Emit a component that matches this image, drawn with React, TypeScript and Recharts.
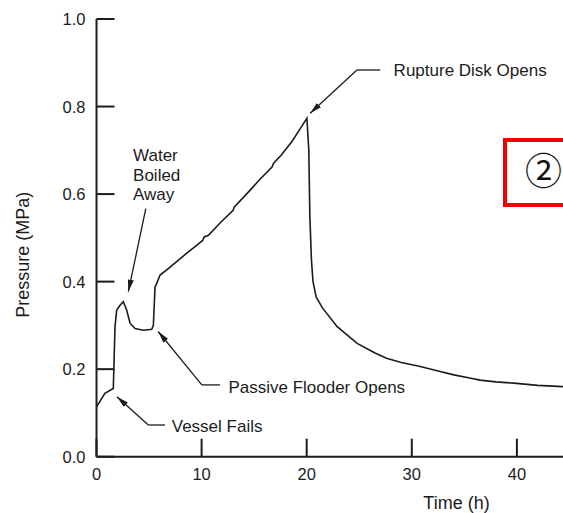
import { LineChart, Line, XAxis, YAxis, ReferenceLine, ReferenceDot, Label } from "recharts"

// pressure history
const time = [
  0, 0.8, 1.6, 1.76, 1.92, 2.2, 2.55, 2.87, 3.19, 3.67, 4.46, 5.26, 5.41, 5.57, 5.73,
  6.05, 6.68, 7.8, 8.59, 9.5, 10.1, 10.25, 10.65, 11.8, 13.0, 13.1, 14.62, 15.6, 16.7,
  16.84, 17.6, 18.6, 19.4, 20.02, 20.2, 20.3, 20.45, 20.6, 20.9, 21.5, 22.9, 24.8, 26.5,
  27.6, 29, 30.8, 32.5, 34, 35.5, 36.5, 38, 39.7, 42, 44.4, 46,
]
const pressure = [
  0.114, 0.145, 0.156, 0.297, 0.335, 0.345, 0.354, 0.335, 0.305, 0.293, 0.289, 0.291, 0.3,
  0.388, 0.396, 0.415, 0.427, 0.449, 0.465, 0.482, 0.494, 0.502, 0.506, 0.535, 0.563, 0.57,
  0.609, 0.635, 0.662, 0.67, 0.69, 0.72, 0.75, 0.773, 0.7, 0.55, 0.45, 0.4, 0.365, 0.34,
  0.297, 0.259, 0.237, 0.225, 0.215, 0.206, 0.196, 0.187, 0.18, 0.175, 0.171, 0.168, 0.163,
  0.16, 0.158,
]

const xTicks = [0, 10, 20, 30, 40]
const yTicks = [0, 0.2, 0.4, 0.6, 0.8, 1.0]

// annotation text: [time, pressure, text]
const notes: [number, number, string][] = [
  [3.48, 0.676, "Water"],
  [3.48, 0.631, "Boiled"],
  [3.48, 0.586, "Away"],
  [28.27, 0.8697, "Rupture Disk Opens"],
  [12.55, 0.1455, "Passive Flooder Opens"],
  [7.16, 0.0553, "Vessel Fails"],
]

// leader lines, each list ends at the arrow tip
const leaders: [number, number][][] = [
  [[4.69, 0.567], [3.03, 0.377]],
  [[27.0, 0.8835], [24.78, 0.8835], [20.33, 0.7846]],
  [[11.76, 0.164], [10.02, 0.164], [5.87, 0.286]],
  [[6.52, 0.0724], [4.93, 0.0724], [1.95, 0.137]],
]

const data = time.map((t, i) => ({ t, p: pressure[i] }))

const font = "Arial, 'Liberation Sans', sans-serif"
const ink = "#1c1c1c"

function BottomTick(props: any) {
  const { x, y, payload } = props
  return (
    <g>
      <line x1={x} y1={y} x2={x} y2={y - 18} stroke={ink} strokeWidth={2} />
      <text x={x} y={y + 23} textAnchor="middle" fontSize={16.5} fontFamily={font} fill={ink}>
        {payload.value}
      </text>
    </g>
  )
}

function TopTick(props: any) {
  const { x, y } = props
  return <line x1={x} y1={y} x2={x} y2={y + 18} stroke={ink} strokeWidth={2} />
}

function LeftTick(props: any) {
  const { x, y, payload } = props
  return (
    <g>
      <line x1={x} y1={y} x2={x + 18} y2={y} stroke={ink} strokeWidth={2} />
      <text x={x - 11} y={y + 6} textAnchor="end" fontSize={16.5} fontFamily={font} fill={ink}>
        {payload.value.toFixed(1)}
      </text>
    </g>
  )
}

export default function App() {
  return (
    <div style={{ position: "relative", width: 563, height: 513, overflow: "hidden", background: "#fff" }}>
      <style>{"body{margin:0}"}</style>
      <div style={{ position: "absolute", left: 8, top: 8 }}>
        <LineChart width={620} height={505} data={data} margin={{ top: 11, right: 6, bottom: 0, left: 0 }}>
          <defs>
            <marker id="tip" viewBox="0 0 12 6" refX="12" refY="3" markerWidth="12" markerHeight="6"
              orient="auto" markerUnits="userSpaceOnUse">
              <path d="M0,0 L12,3 L0,6 z" fill={ink} />
            </marker>
          </defs>
          <XAxis
            dataKey="t"
            type="number"
            domain={[0, 50]}
            ticks={xTicks}
            height={56.3}
            tickSize={0}
            tickMargin={0}
            tick={<BottomTick />}
            axisLine={{ stroke: ink, strokeWidth: 2 }}
            interval={0}
          >
            <Label
              content={(p: any) => (
                <text x={p.viewBox.x + 360} y={p.viewBox.y + 52} textAnchor="middle" fontSize={18}
                  fontFamily={font} fill={ink}>
                  Time (h)
                </text>
              )}
            />
          </XAxis>
          <XAxis
            xAxisId="top"
            orientation="top"
            dataKey="t"
            type="number"
            domain={[0, 50]}
            ticks={xTicks.slice(1)}
            height={0}
            tickSize={0}
            tickMargin={0}
            tick={<TopTick />}
            axisLine={{ stroke: ink, strokeWidth: 2 }}
            interval={0}
          />
          <YAxis
            type="number"
            domain={[0, 1]}
            ticks={yTicks}
            width={88.5}
            tickSize={0}
            tickMargin={0}
            tick={<LeftTick />}
            axisLine={{ stroke: ink, strokeWidth: 2 }}
            interval={0}
          >
            <Label
              content={(p: any) => {
                const cx = p.viewBox.x + 21
                const cy = p.viewBox.y + p.viewBox.height / 2 + 17
                return (
                  <text x={cx} y={cy} transform={`rotate(-90 ${cx} ${cy})`} textAnchor="middle"
                    fontSize={18} fontFamily={font} fill={ink}>
                    Pressure (MPa)
                  </text>
                )
              }}
            />
          </YAxis>
          <Line dataKey="p" type="linear" stroke={ink} strokeWidth={1.6} dot={false} isAnimationActive={false} />
          {leaders.map((pts, i) =>
            pts.slice(1).map((b, j) => (
              <ReferenceLine
                key={`${i}-${j}`}
                segment={[{ x: pts[j][0], y: pts[j][1] }, { x: b[0], y: b[1] }]}
                stroke={ink}
                strokeWidth={1.3}
                ifOverflow="visible"
                markerEnd={j === pts.length - 2 ? "url(#tip)" : undefined}
              />
            ))
          )}
          {notes.map(([t, p, s]) => (
            <ReferenceDot
              key={s}
              x={t}
              y={p}
              r={0}
              ifOverflow="visible"
              shape={(d: any) => (
                <text x={d.cx} y={d.cy} fontSize={17} fontFamily={font} fill={ink}>
                  {s}
                </text>
              )}
            />
          ))}
        </LineChart>
      </div>
      <div
        style={{
          position: "absolute",
          left: 503,
          top: 138,
          width: 100,
          height: 61,
          border: "4.5px solid #f20000",
          background: "#fff",
        }}
      >
        <span
          style={{
            position: "absolute",
            left: 18,
            top: 9,
            fontSize: 37,
            lineHeight: "37px",
            fontFamily: "'Noto Sans CJK JP', sans-serif",
            color: "#111",
          }}
        >
          ②
        </span>
      </div>
    </div>
  )
}
